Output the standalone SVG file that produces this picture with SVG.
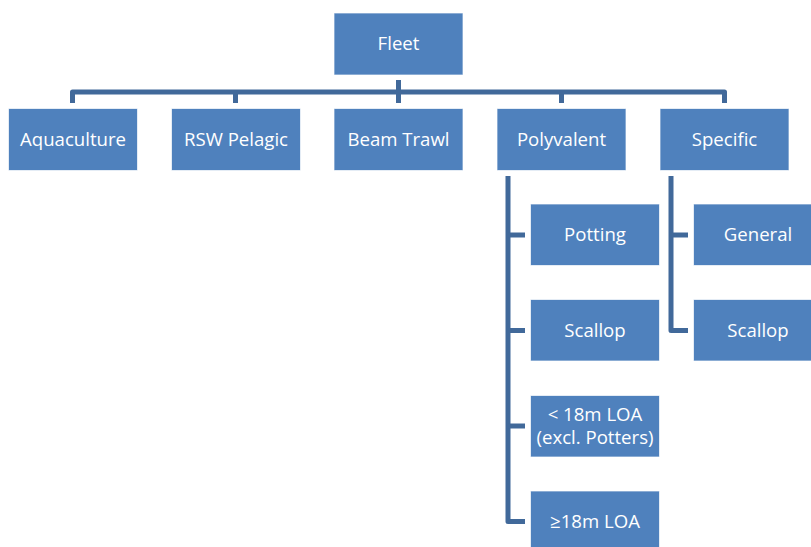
<svg xmlns="http://www.w3.org/2000/svg" width="811" height="547" viewBox="0 0 811 547">
<style>
.box{fill:#4F81BD;stroke:#FFFFFF;stroke-opacity:0.7;stroke-width:1}
.t{fill:#FFFFFF;font-family:"Open Sans","Liberation Sans",Arial,sans-serif;font-size:18.6px;text-anchor:middle}
.c{fill:none;stroke:#41699A;stroke-width:5;stroke-linejoin:round;stroke-linecap:butt}
</style>
<rect width="811" height="547" fill="#FFFFFF"/>
<g id="connectors">
<path class="c" d="M72.5,103 V92 H724.5 V103"/>
<path class="c" d="M398.5,80 V103"/>
<path class="c" d="M235.5,92 V103"/>
<path class="c" d="M561.5,92 V103"/>
<path class="c" d="M508,176 V521.5 H525"/>
<path class="c" d="M508,235 H525"/>
<path class="c" d="M508,330.5 H525"/>
<path class="c" d="M508,426 H525"/>
<path class="c" d="M671,176 V330.5 H688"/>
<path class="c" d="M671,235 H688"/>
</g>
<g id="fleet"><rect class="box" x="334" y="13" width="129" height="62"/><text class="t" x="398.5" y="50">Fleet</text></g>
<g id="aquaculture"><rect class="box" x="8.5" y="108.5" width="129" height="62"/><text class="t" x="73" y="146">Aquaculture</text></g>
<g id="rsw-pelagic"><rect class="box" x="171.5" y="108.5" width="129" height="62"/><text class="t" x="236" y="146">RSW Pelagic</text></g>
<g id="beam-trawl"><rect class="box" x="334" y="108.5" width="129" height="62"/><text class="t" x="398.5" y="146">Beam Trawl</text></g>
<g id="polyvalent"><rect class="box" x="497" y="108.5" width="129" height="62"/><text class="t" x="561.5" y="146">Polyvalent</text></g>
<g id="specific"><rect class="box" x="660" y="108.5" width="129" height="62"/><text class="t" x="724.5" y="146">Specific</text></g>
<g id="potting"><rect class="box" x="530.5" y="204" width="129" height="61.5"/><text class="t" x="595" y="241">Potting</text></g>
<g id="scallop-poly"><rect class="box" x="530.5" y="299.5" width="129" height="61.5"/><text class="t" x="595" y="336.5">Scallop</text></g>
<g id="under18"><rect class="box" x="530.5" y="395.5" width="129" height="61.5"/><text class="t" x="595" y="421">&lt; 18m LOA</text><text class="t" x="595" y="444">(excl. Potters)</text></g>
<g id="over18"><rect class="box" x="530.5" y="491" width="129" height="61.5"/><text class="t" x="595" y="528">≥18m LOA</text></g>
<g id="general"><rect class="box" x="693.5" y="204" width="129" height="61.5"/><text class="t" x="758" y="241">General</text></g>
<g id="scallop-spec"><rect class="box" x="693.5" y="299.5" width="129" height="61.5"/><text class="t" x="758" y="336.5">Scallop</text></g>
</svg>
